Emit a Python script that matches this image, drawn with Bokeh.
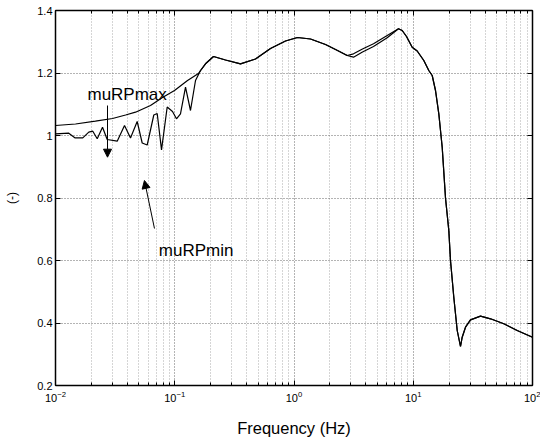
from bokeh.plotting import figure
from bokeh.models import (LogAxis, LinearAxis, FixedTicker, Arrow, NormalHead, Label,
                          CustomJSTickFormatter, Range1d, LogTickFormatter)
from bokeh.embed import file_html
from bokeh.resources import INLINE

# ---- data ----
freq_low_max = [0.01, 0.01472, 0.0216, 0.0301, 0.0387, 0.0469, 0.0626, 0.0789, 0.0995, 0.128, 0.158]
murp_low_max = [1.032, 1.0368, 1.0458, 1.0544, 1.0656, 1.0746, 1.096, 1.1216, 1.144, 1.176, 1.1984]

freq_low_min = [0.01, 0.01292, 0.01452, 0.01694, 0.01901, 0.02055, 0.02238, 0.02479, 0.02714,
                0.03292, 0.03791, 0.04256, 0.04842, 0.05333, 0.05875, 0.06672, 0.07126, 0.07745,
                0.08643, 0.09574, 0.1034, 0.1117, 0.1231, 0.1355, 0.1493, 0.1644]
murp_low_min = [1.0054, 1.0074, 0.9926, 0.9926, 1.0106, 1.0138, 0.9894, 1.0266, 0.9872,
                0.9818, 1.032, 0.992, 1.0448, 0.976, 0.9696, 1.0656, 1.0704, 0.9542,
                1.0912, 1.0768, 1.0534, 1.0694, 1.1546, 1.08, 1.176, 1.208]

freq_mid = [0.1811, 0.2113, 0.2665, 0.3558, 0.4755, 0.6352, 0.8486, 1.070, 1.375, 1.837, 2.317, 2.793]
murp_mid = [1.2294, 1.2528, 1.2416, 1.2294, 1.2448, 1.2784, 1.3024, 1.3136, 1.3088, 1.2912, 1.272, 1.256]

freq_split = [3.155, 3.753, 4.642, 6.047]
murp_split_max = [1.2614, 1.2768, 1.2934, 1.32]
murp_split_min = [1.2506, 1.2672, 1.2848, 1.3126]

freq_high = [7.52, 8.078, 8.778, 9.799, 10.79, 12.26, 13.50, 14.42, 15.37, 16.38, 17.49, 18.64,
             19.87, 20.53, 21.88, 23.37, 24.90, 25.73, 27.43, 30.20, 36.64, 44.44, 57.45, 74.41, 100]
murp_high = [1.3414, 1.336, 1.3168, 1.2826, 1.2704, 1.24, 1.208, 1.192, 1.144, 1.0694, 0.9626, 0.800,
             0.696, 0.6, 0.4826, 0.376, 0.3248, 0.3546, 0.3866, 0.4102, 0.4218, 0.4134, 0.3974, 0.376, 0.3546]

freq_max = freq_low_max + freq_mid + freq_split + freq_high
murp_max = murp_low_max + murp_mid + murp_split_max + murp_high
freq_min = freq_low_min + freq_mid + freq_split + freq_high
murp_min = murp_low_min + murp_mid + murp_split_min + murp_high

x_major = [0.01, 0.1, 1, 10, 100]
y_major = [0.2, 0.4, 0.6, 0.8, 1.0, 1.2, 1.4]
x_minor = [m * d for d in [0.01, 0.1, 1, 10] for m in range(2, 10)]

FONT = "Liberation Sans"

p = figure(width=540, height=441, x_axis_type="log",
           x_range=Range1d(0.01, 100), y_range=Range1d(0.2, 1.4),
           output_backend="svg", toolbar_location=None,
           min_border_left=55, min_border_right=8, min_border_top=10, min_border_bottom=56)
p.background_fill_color = "white"
p.border_fill_color = "white"
p.outline_line_color = "black"
p.outline_line_width = 1

xt = FixedTicker(ticks=x_major, minor_ticks=x_minor)
yt = FixedTicker(ticks=y_major, minor_ticks=[])

def style_axis(ax):
    ax.axis_line_color = "black"
    ax.axis_line_width = 1.5
    ax.major_tick_in = 5
    ax.major_tick_out = 0
    ax.minor_tick_in = 3
    ax.minor_tick_out = 0
    ax.major_tick_line_color = "black"
    ax.minor_tick_line_color = "black"
    ax.major_label_text_font = FONT
    ax.major_label_text_font_size = "11px"
    ax.major_label_text_color = "black"
    ax.axis_label_text_font = FONT
    ax.axis_label_text_font_style = "normal"
    ax.axis_label_text_color = "black"

xa = p.xaxis[0]
xa.ticker = xt
xa.formatter = LogTickFormatter()
style_axis(xa)
xa.major_label_standoff = 5
xa.axis_label = "Frequency (Hz)"
xa.axis_label_text_font_size = "16.5px"
xa.axis_label_standoff = 14

ya = p.yaxis[0]
ya.ticker = yt
ya.formatter = CustomJSTickFormatter(code="return (Math.round(tick*10)/10).toString();")
style_axis(ya)
ya.minor_tick_line_color = None
ya.major_label_standoff = 3
ya.axis_label = "(-)"
ya.axis_label_text_font_size = "12px"
ya.axis_label_standoff = 15

blank = CustomJSTickFormatter(code="return '';")
top = LogAxis(ticker=xt, formatter=blank)
style_axis(top)
top.major_label_standoff = 0
top.major_label_text_font_size = "0px"
p.add_layout(top, "above")

right = LinearAxis(ticker=yt, formatter=blank)
style_axis(right)
right.minor_tick_line_color = None
right.major_label_standoff = 0
right.major_label_text_font_size = "0px"
p.add_layout(right, "right")

for g in (p.xgrid[0], p.ygrid[0]):
    g.grid_line_color = "#444444"
    g.grid_line_dash = "1 2"
    g.grid_line_width = 1
    g.grid_line_alpha = 0.8
p.xgrid[0].minor_grid_line_color = "#888888"
p.xgrid[0].minor_grid_line_dash = "1 2"
p.xgrid[0].minor_grid_line_alpha = 0.7

p.line(freq_max, murp_max, line_color="black", line_width=1.2)
p.line(freq_min, murp_min, line_color="black", line_width=1.2)

# annotations
p.add_layout(Label(x=0.01854, y=1.130, text="muRPmax", text_font=FONT, text_font_size="17px",
                   text_baseline="alphabetic", text_color="black"))
p.add_layout(Label(x=0.0735, y=0.632, text="muRPmin", text_font=FONT, text_font_size="17px",
                   text_baseline="alphabetic", text_color="black"))
p.add_layout(Arrow(end=NormalHead(size=8, fill_color="black", line_color="black", line_width=1),
                   x_start=0.0273, y_start=1.096, x_end=0.0273, y_end=0.9306,
                   line_color="black", line_width=1))
p.add_layout(Arrow(end=NormalHead(size=8, fill_color="black", line_color="black", line_width=1),
                   x_start=0.0676, y_start=0.7024, x_end=0.0557, y_end=0.856,
                   line_color="black", line_width=1))

open("out.html", "w").write(file_html(p, INLINE))
